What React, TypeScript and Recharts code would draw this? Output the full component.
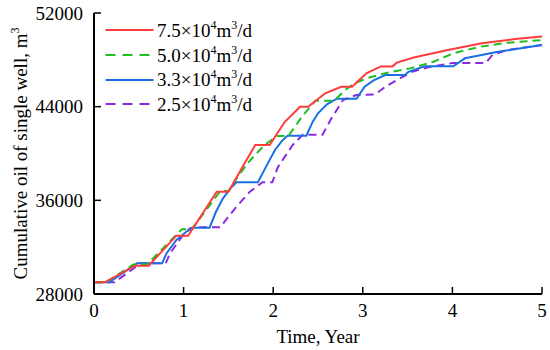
import { LineChart, Line, XAxis, YAxis, Legend } from "recharts";

const FONT = '"Liberation Serif", "Times New Roman", serif';

// [year, cumulative oil m3]
const rate75 = [
    [0, 29000], [0.12, 29000], [0.46, 30420], [0.61, 30420], [0.92, 32980], [1.05, 32980],
    [1.37, 36740], [1.50, 36740], [1.67, 39020], [1.80, 40720], [1.96, 40720], [2.13, 42710],
    [2.30, 44000], [2.39, 44000], [2.58, 45140], [2.76, 45700], [2.88, 45700], [3.04, 46850],
    [3.20, 47440], [3.33, 47440], [3.38, 47760], [3.58, 48220], [3.95, 48840], [4.33, 49410],
    [4.70, 49780], [5, 50000],
];
const rate50 = [
    [0, 29000], [0.13, 29000], [0.44, 30510], [0.59, 30510], [0.98, 33530], [1.09, 33530],
    [1.25, 35150], [1.41, 36800], [1.50, 36800], [1.62, 38200], [1.74, 39400], [1.90, 40700],
    [2.04, 41490], [2.17, 41490], [2.32, 43140], [2.47, 44500], [2.68, 44500], [2.80, 45400],
    [2.91, 46000], [3.04, 46420], [3.27, 46900], [3.53, 47270], [3.79, 47840], [4.01, 48560],
    [4.31, 49120], [4.61, 49460], [5, 49690],
];
const rate33 = [
    [0, 29000], [0.17, 29000], [0.48, 30620], [0.76, 30620], [0.81, 31480], [0.92, 32610],
    [1.03, 33320], [1.11, 33660], [1.29, 33660], [1.36, 35000], [1.44, 36170], [1.52, 37000],
    [1.59, 37540], [1.83, 37540], [1.91, 38730], [2.02, 40300], [2.10, 41100], [2.16, 41520],
    [2.37, 41520], [2.44, 42700], [2.50, 43430], [2.60, 44200], [2.71, 44680], [2.93, 44680],
    [3.02, 45700], [3.12, 46250], [3.25, 46700], [3.47, 46700], [3.51, 46980], [3.69, 47450],
    [4.01, 47450], [4.14, 48130], [4.51, 48690], [5, 49260],
];
const rate25 = [
    [0, 29000], [0.23, 29000], [0.52, 30620], [0.80, 30620], [0.85, 31480], [0.98, 32890],
    [1.07, 33610], [1.12, 33700], [1.41, 33700], [1.50, 34600], [1.59, 35460], [1.74, 36740],
    [1.88, 37540], [1.99, 37540], [2.05, 38800], [2.13, 39730], [2.22, 40750], [2.33, 41600],
    [2.55, 41600], [2.65, 43000], [2.78, 44570], [2.93, 45000], [3.14, 45050], [3.25, 45700],
    [3.40, 46350], [3.55, 46980], [3.75, 47400], [4.00, 47720], [4.37, 47720], [4.45, 48450],
    [4.61, 48840], [5, 49260],
];

const xTicks = [0, 1, 2, 3, 4, 5];
const yTicks = [28000, 36000, 44000, 52000];

const toPoints = (pairs: number[][]) => pairs.map(([x, y]) => ({ x, y }));

// drawn bottom to top: purple, blue, green, red
const series = [
    { name: "2.5", data: toPoints(rate25), color: "#8a2be2", dash: "8 5", legendDash: "10 7" },
    { name: "3.3", data: toPoints(rate33), color: "#1a6fe3", dash: undefined, legendDash: undefined },
    { name: "5.0", data: toPoints(rate50), color: "#1fbf1f", dash: "8 5", legendDash: "10 7" },
    { name: "7.5", data: toPoints(rate75), color: "#ff3b3b", dash: undefined, legendDash: undefined },
];

const textStyle = { fontFamily: FONT, fontSize: 19 };

const LegendBox = () => (
    <div style={{ fontFamily: FONT, fontSize: 19, color: "#000", lineHeight: 1 }}>
        {[...series].reverse().map((s) => (
            <div key={s.name} style={{ display: "flex", alignItems: "center", height: 24.7 }}>
                <svg width={49} height={6} style={{ display: "block" }}>
                    <line x1={0.5} y1={3} x2={48.5} y2={3} stroke={s.color} strokeWidth={2} strokeDasharray={s.legendDash} />
                </svg>
                <span style={{ marginLeft: 3, whiteSpace: "nowrap" }}>
                    {s.name}×10
                    <span style={{ fontSize: 12, position: "relative", top: -8 }}>4</span>
                    m
                    <span style={{ fontSize: 12, position: "relative", top: -8 }}>3</span>
                    /d
                </span>
            </div>
        ))}
    </div>
);

const XTick = (props: any) => (
    <text x={props.x} y={props.y} dy="0.71em" textAnchor="middle" fill="#000" style={textStyle}>
        {props.payload.value}
    </text>
);

const YTick = (props: any) => (
    <text x={props.x} y={props.y} dy="0.355em" textAnchor="end" fill="#000" style={textStyle}>
        {props.payload.value}
    </text>
);

const XLabel = (props: any) => {
    const vb = props.viewBox || { x: 94, y: 294, width: 448, height: 56 };
    return (
        <text x={vb.x + vb.width / 2} y={vb.y + vb.height - 7} textAnchor="middle" fill="#000" style={textStyle}>
            Time, Year
        </text>
    );
};

const YLabel = (props: any) => {
    const vb = props.viewBox || { x: 0, y: 13, width: 94, height: 281 };
    const cx = vb.x + 27;
    const cy = vb.y + vb.height / 2;
    return (
        <text x={cx} y={cy} transform={`rotate(-90, ${cx}, ${cy})`} textAnchor="middle"
            style={textStyle} fill="#000">
            Cumulative oil of single well, m
            <tspan dy={-8} style={{ fontSize: 12 }}>3</tspan>
        </text>
    );
};

export default function App() {
    return (
        <div style={{ position: "absolute", left: 0, top: 0, background: "#fff" }}>
            <LineChart width={550} height={350} margin={{ top: 13, right: 8, bottom: 0, left: 0 }}>
                <XAxis
                    dataKey="x"
                    type="number"
                    domain={[0, 5]}
                    ticks={xTicks}
                    height={56}
                    axisLine={{ stroke: "#000", strokeWidth: 2 }}
                    tickLine={{ stroke: "#000", strokeWidth: 1.5 }}
                    tickSize={-7}
                    tickMargin={17}
                    tick={XTick}
                    label={{ content: XLabel }}
                />
                <XAxis
                    xAxisId="top"
                    orientation="top"
                    type="number"
                    domain={[0, 5]}
                    height={0}
                    tick={false}
                    tickLine={false}
                    axisLine={{ stroke: "#000", strokeWidth: 2 }}
                />
                <YAxis
                    type="number"
                    domain={[28000, 52000]}
                    ticks={yTicks}
                    width={94}
                    axisLine={{ stroke: "#000", strokeWidth: 2 }}
                    tickLine={{ stroke: "#000", strokeWidth: 1.5 }}
                    tickSize={-7}
                    tickMargin={18}
                    tick={YTick}
                    label={{ content: YLabel }}
                />
                <YAxis
                    yAxisId="right"
                    orientation="right"
                    type="number"
                    domain={[28000, 52000]}
                    width={0}
                    tick={false}
                    tickLine={false}
                    axisLine={{ stroke: "#000", strokeWidth: 2 }}
                />
                <Legend
                    layout="horizontal"
                    verticalAlign="middle"
                    align="center"
                    content={<LegendBox />}
                    wrapperStyle={{ left: 105, top: 18, width: "auto", height: "auto" }}
                />
                {series.map((s) => (
                    <Line
                        key={s.name}
                        data={s.data}
                        dataKey="y"
                        type="linear"
                        stroke={s.color}
                        strokeWidth={2}
                        strokeDasharray={s.dash}
                        dot={false}
                        activeDot={false}
                        isAnimationActive={false}
                    />
                ))}
            </LineChart>
        </div>
    );
}
